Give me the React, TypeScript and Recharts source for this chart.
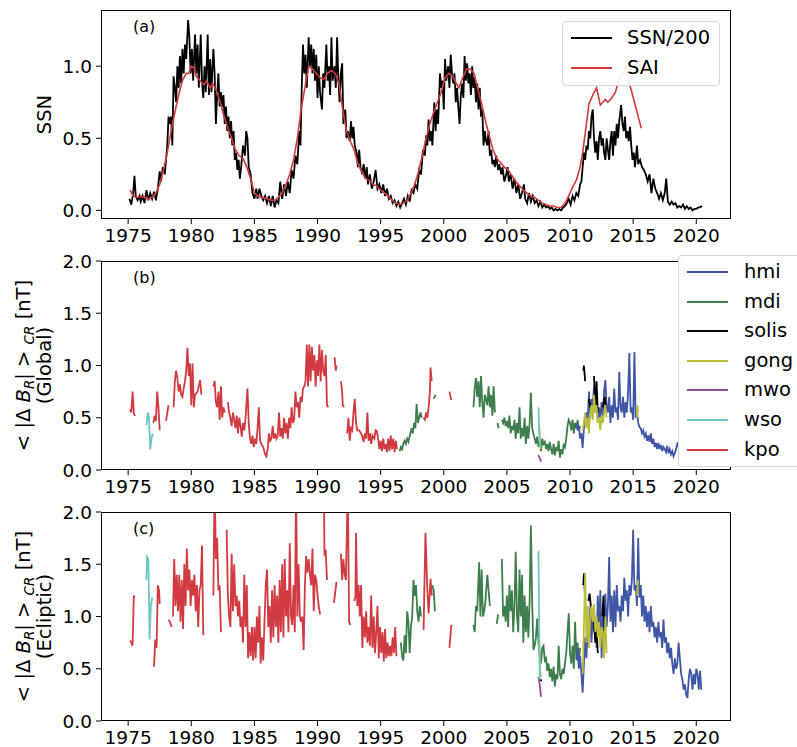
import { LineChart, Line, XAxis, YAxis } from 'recharts';

type Pt = [number, number];

const FONT = '"DejaVu Sans", sans-serif';

const xTicks = [1975, 1980, 1985, 1990, 1995, 2000, 2005, 2010, 2015, 2020];
const ssnTicks = [0, 0.5, 1.0];
const dbTicks = [0, 0.5, 1.0, 1.5, 2.0];

// panel (a): sunspot number / 200 and SAI
const ssn200: Pt[] = [
  [1975.1, 0.08], [1975.25, 0.04], [1975.4, 0.12], [1975.5, 0.24], [1975.6, 0.1], [1975.75, 0.07], [1975.9, 0.1],
  [1976.0, 0.06], [1976.15, 0.1], [1976.3, 0.05], [1976.45, 0.14], [1976.6, 0.07], [1976.75, 0.12], [1976.9, 0.08],
  [1977.05, 0.13], [1977.2, 0.07], [1977.35, 0.15], [1977.5, 0.27], [1977.6, 0.2], [1977.75, 0.3], [1977.9, 0.25],
  [1978.0, 0.35], [1978.1, 0.45], [1978.2, 0.65], [1978.3, 0.6], [1978.4, 0.65], [1978.5, 0.45], [1978.6, 0.93],
  [1978.7, 0.85], [1978.8, 0.75], [1978.9, 1.0], [1979.0, 0.85], [1979.1, 1.07], [1979.2, 0.88], [1979.3, 1.12],
  [1979.4, 0.95], [1979.5, 1.15], [1979.6, 1.05], [1979.75, 1.32], [1979.85, 1.2], [1979.95, 0.95], [1980.05, 1.12],
  [1980.15, 0.9], [1980.3, 1.22], [1980.4, 0.95], [1980.5, 1.15], [1980.6, 0.85], [1980.75, 1.22], [1980.85, 0.9],
  [1980.95, 0.78], [1981.05, 1.0], [1981.15, 0.82], [1981.3, 1.22], [1981.4, 0.8], [1981.5, 1.05], [1981.6, 0.82],
  [1981.75, 1.12], [1981.85, 0.95], [1981.95, 0.6], [1982.05, 0.8], [1982.15, 0.95], [1982.25, 0.72], [1982.35, 0.82],
  [1982.45, 0.72], [1982.55, 0.8], [1982.65, 0.6], [1982.75, 0.72], [1982.85, 0.55], [1982.95, 0.65], [1983.05, 0.5],
  [1983.15, 0.62], [1983.25, 0.45], [1983.35, 0.55], [1983.45, 0.35], [1983.55, 0.4], [1983.65, 0.28], [1983.75, 0.35],
  [1983.85, 0.22], [1983.95, 0.3], [1984.1, 0.45], [1984.25, 0.38], [1984.35, 0.55], [1984.45, 0.5], [1984.55, 0.3],
  [1984.7, 0.25], [1984.85, 0.12], [1985.0, 0.08], [1985.15, 0.15], [1985.25, 0.08], [1985.4, 0.15], [1985.55, 0.1],
  [1985.7, 0.07], [1985.85, 0.1], [1986.0, 0.05], [1986.15, 0.1], [1986.3, 0.03], [1986.45, 0.1], [1986.6, 0.02],
  [1986.75, 0.07], [1986.9, 0.05], [1987.05, 0.2], [1987.2, 0.08], [1987.35, 0.18], [1987.5, 0.1], [1987.65, 0.2],
  [1987.8, 0.12], [1987.95, 0.28], [1988.1, 0.22], [1988.25, 0.38], [1988.4, 0.32], [1988.55, 0.55], [1988.65, 0.45],
  [1988.75, 0.85], [1988.85, 1.15], [1988.95, 0.95], [1989.05, 1.08], [1989.15, 0.85], [1989.3, 1.2], [1989.4, 1.0],
  [1989.5, 1.15], [1989.6, 0.95], [1989.7, 1.12], [1989.8, 0.9], [1989.9, 1.08], [1990.0, 0.78], [1990.1, 1.0],
  [1990.2, 0.82], [1990.35, 0.7], [1990.45, 0.95], [1990.55, 0.85], [1990.7, 1.15], [1990.8, 0.9], [1990.9, 1.0],
  [1991.0, 0.8], [1991.1, 1.2], [1991.2, 0.9], [1991.35, 1.0], [1991.45, 0.85], [1991.55, 1.2], [1991.65, 0.92],
  [1991.75, 0.75], [1991.85, 0.95], [1991.95, 1.02], [1992.05, 0.6], [1992.2, 0.7], [1992.3, 0.5], [1992.4, 0.55],
  [1992.55, 0.48], [1992.65, 0.62], [1992.75, 0.5], [1992.85, 0.58], [1992.95, 0.45], [1993.1, 0.4], [1993.2, 0.3],
  [1993.3, 0.42], [1993.4, 0.3], [1993.55, 0.25], [1993.65, 0.32], [1993.8, 0.22], [1993.9, 0.3], [1994.0, 0.18],
  [1994.15, 0.25], [1994.3, 0.15], [1994.45, 0.2], [1994.6, 0.28], [1994.75, 0.15], [1994.9, 0.18], [1995.05, 0.12],
  [1995.2, 0.18], [1995.35, 0.1], [1995.5, 0.15], [1995.65, 0.08], [1995.8, 0.1], [1995.95, 0.05], [1996.1, 0.07],
  [1996.25, 0.03], [1996.4, 0.06], [1996.55, 0.02], [1996.7, 0.05], [1996.85, 0.08], [1997.0, 0.04], [1997.15, 0.1],
  [1997.3, 0.06], [1997.45, 0.14], [1997.6, 0.12], [1997.75, 0.18], [1997.9, 0.15], [1998.05, 0.28], [1998.2, 0.25],
  [1998.35, 0.42], [1998.5, 0.38], [1998.6, 0.52], [1998.7, 0.45], [1998.8, 0.63], [1998.9, 0.48], [1999.0, 0.55],
  [1999.1, 0.45], [1999.25, 0.75], [1999.35, 0.55], [1999.45, 0.7], [1999.55, 0.6], [1999.7, 0.95], [1999.8, 0.85],
  [1999.9, 0.9], [2000.0, 0.7], [2000.1, 1.05], [2000.2, 0.9], [2000.35, 1.0], [2000.45, 0.85], [2000.55, 1.08],
  [2000.65, 0.95], [2000.75, 0.88], [2000.85, 0.95], [2000.95, 0.75], [2001.05, 0.85], [2001.15, 0.72], [2001.25, 0.6],
  [2001.35, 0.8], [2001.45, 0.88], [2001.55, 0.78], [2001.65, 1.07], [2001.75, 0.9], [2001.85, 1.02], [2001.95, 0.88],
  [2002.05, 0.95], [2002.15, 0.8], [2002.25, 1.0], [2002.35, 0.85], [2002.45, 0.92], [2002.55, 0.75], [2002.65, 0.88],
  [2002.75, 0.7], [2002.85, 0.85], [2002.95, 0.65], [2003.05, 0.7], [2003.15, 0.45], [2003.25, 0.55], [2003.35, 0.48],
  [2003.45, 0.45], [2003.55, 0.55], [2003.65, 0.38], [2003.75, 0.42], [2003.85, 0.32], [2003.95, 0.35], [2004.05, 0.3],
  [2004.15, 0.38], [2004.3, 0.28], [2004.4, 0.32], [2004.55, 0.25], [2004.65, 0.3], [2004.8, 0.2], [2004.95, 0.25],
  [2005.05, 0.3], [2005.15, 0.2], [2005.3, 0.25], [2005.45, 0.15], [2005.6, 0.22], [2005.75, 0.12], [2005.9, 0.18],
  [2006.05, 0.08], [2006.2, 0.12], [2006.35, 0.18], [2006.45, 0.08], [2006.6, 0.05], [2006.75, 0.12], [2006.9, 0.06],
  [2007.05, 0.1], [2007.2, 0.05], [2007.35, 0.07], [2007.5, 0.03], [2007.65, 0.06], [2007.8, 0.02], [2007.95, 0.04],
  [2008.1, 0.02], [2008.25, 0.03], [2008.4, 0.01], [2008.55, 0.02], [2008.7, 0.0], [2008.85, 0.01], [2009.0, 0.0],
  [2009.15, 0.01], [2009.3, 0.0], [2009.45, 0.02], [2009.6, 0.03], [2009.75, 0.05], [2009.9, 0.08], [2010.05, 0.04],
  [2010.2, 0.1], [2010.35, 0.07], [2010.5, 0.12], [2010.65, 0.1], [2010.8, 0.18], [2010.9, 0.2], [2011.0, 0.3],
  [2011.1, 0.4], [2011.2, 0.35], [2011.3, 0.45], [2011.4, 0.42], [2011.5, 0.55], [2011.6, 0.5], [2011.7, 0.65],
  [2011.8, 0.7], [2011.9, 0.5], [2012.0, 0.4], [2012.1, 0.48], [2012.2, 0.35], [2012.3, 0.5], [2012.4, 0.55],
  [2012.5, 0.45], [2012.6, 0.5], [2012.7, 0.4], [2012.8, 0.35], [2012.9, 0.5], [2013.0, 0.42], [2013.1, 0.35],
  [2013.2, 0.48], [2013.3, 0.55], [2013.4, 0.38], [2013.5, 0.55], [2013.6, 0.45], [2013.7, 0.6], [2013.8, 0.5],
  [2013.9, 0.62], [2014.05, 0.73], [2014.15, 0.6], [2014.25, 0.55], [2014.35, 0.65], [2014.45, 0.5], [2014.55, 0.55],
  [2014.65, 0.48], [2014.75, 0.58], [2014.85, 0.45], [2014.95, 0.35], [2015.05, 0.4], [2015.15, 0.3], [2015.3, 0.45],
  [2015.4, 0.32], [2015.55, 0.35], [2015.7, 0.3], [2015.85, 0.28], [2016.0, 0.25], [2016.15, 0.2], [2016.3, 0.25],
  [2016.45, 0.12], [2016.6, 0.22], [2016.75, 0.15], [2016.9, 0.12], [2017.05, 0.08], [2017.2, 0.12], [2017.35, 0.07],
  [2017.5, 0.12], [2017.62, 0.22], [2017.75, 0.06], [2017.9, 0.04], [2018.05, 0.06], [2018.2, 0.04], [2018.35, 0.05],
  [2018.5, 0.02], [2018.65, 0.03], [2018.8, 0.02], [2018.95, 0.04], [2019.1, 0.01], [2019.25, 0.03], [2019.4, 0.01],
  [2019.55, 0.02], [2019.7, 0.0], [2019.85, 0.01], [2020.0, 0.01], [2020.15, 0.02], [2020.3, 0.02], [2020.45, 0.03],
];

const sai: Pt[] = [
  [1975.15, 0.14], [1975.4, 0.1], [1975.7, 0.09], [1976.0, 0.1], [1976.3, 0.09], [1976.6, 0.08], [1976.9, 0.09],
  [1977.2, 0.12], [1977.5, 0.18], [1977.8, 0.28], [1978.1, 0.4], [1978.4, 0.55], [1978.7, 0.68], [1979.0, 0.8],
  [1979.3, 0.9], [1979.6, 0.95], [1979.8, 0.95], [1980.0, 1.0], [1980.2, 0.99], [1980.4, 0.93], [1980.7, 0.9],
  [1981.0, 0.87], [1981.2, 0.9], [1981.5, 0.85], [1981.7, 0.88], [1982.0, 0.83], [1982.3, 0.75], [1982.6, 0.65],
  [1982.9, 0.57], [1983.2, 0.5], [1983.5, 0.42], [1983.8, 0.38], [1984.1, 0.36], [1984.4, 0.3], [1984.7, 0.22],
  [1985.0, 0.12], [1985.3, 0.1], [1985.6, 0.09], [1986.0, 0.08], [1986.3, 0.07], [1986.6, 0.07], [1986.9, 0.09],
  [1987.2, 0.12], [1987.5, 0.18], [1987.8, 0.25], [1988.1, 0.35], [1988.4, 0.5], [1988.7, 0.7], [1989.0, 0.85],
  [1989.3, 1.0], [1989.6, 0.98], [1989.9, 0.95], [1990.2, 0.92], [1990.5, 0.91], [1990.8, 0.95], [1991.1, 0.97],
  [1991.4, 0.95], [1991.7, 0.88], [1992.0, 0.7], [1992.3, 0.55], [1992.6, 0.48], [1992.9, 0.42], [1993.2, 0.32],
  [1993.5, 0.27], [1993.8, 0.22], [1994.1, 0.21], [1994.4, 0.18], [1994.7, 0.17], [1995.0, 0.14], [1995.3, 0.12],
  [1995.6, 0.1], [1995.9, 0.07], [1996.2, 0.05], [1996.5, 0.04], [1996.8, 0.05], [1997.1, 0.07], [1997.4, 0.12],
  [1997.7, 0.18], [1998.0, 0.27], [1998.3, 0.38], [1998.6, 0.5], [1998.9, 0.6], [1999.2, 0.68], [1999.5, 0.75],
  [1999.8, 0.82], [2000.1, 0.92], [2000.4, 0.95], [2000.7, 0.93], [2001.0, 0.88], [2001.2, 0.85], [2001.5, 0.92],
  [2001.8, 0.98], [2002.1, 0.98], [2002.4, 0.95], [2002.7, 0.84], [2003.0, 0.74], [2003.3, 0.62], [2003.6, 0.52],
  [2003.9, 0.42], [2004.2, 0.36], [2004.5, 0.33], [2004.8, 0.3], [2005.1, 0.28], [2005.4, 0.24], [2005.7, 0.2],
  [2006.0, 0.17], [2006.3, 0.14], [2006.6, 0.12], [2006.9, 0.1], [2007.2, 0.09], [2007.5, 0.07], [2007.8, 0.05],
  [2008.1, 0.04], [2008.4, 0.03], [2008.7, 0.03], [2009.0, 0.02], [2009.3, 0.02], [2009.6, 0.05], [2009.9, 0.1],
  [2010.2, 0.16], [2010.5, 0.21], [2010.8, 0.3], [2011.0, 0.4], [2011.3, 0.6], [2011.5, 0.74], [2011.8, 0.8],
  [2012.1, 0.85], [2012.4, 0.73], [2012.6, 0.75], [2012.8, 0.77], [2013.0, 0.75], [2013.3, 0.78], [2013.6, 0.82],
  [2013.9, 0.92], [2014.2, 0.95], [2014.45, 1.0], [2014.6, 0.9], [2014.8, 0.85], [2015.1, 0.75], [2015.4, 0.65],
  [2015.65, 0.57],
];

// panel (b): global <|dBr|>_CR per observatory, gaps between segments
const kpoGlobal: Pt[][] = [
  [[1975.15, 0.58], [1975.25, 0.55], [1975.35, 0.75], [1975.45, 0.54], [1975.55, 0.52]],
  [[1977.0, 0.45], [1977.1, 0.52], [1977.2, 0.47], [1977.3, 0.75], [1977.4, 0.6], [1977.5, 0.38]],
  [[1978.0, 0.47], [1978.2, 0.62]],
  [[1978.6, 0.6], [1978.7, 0.85], [1978.8, 0.95], [1978.9, 0.88], [1979.0, 0.75], [1979.1, 0.82], [1979.2, 0.72],
   [1979.3, 0.7], [1979.4, 0.78], [1979.5, 0.85], [1979.6, 0.95], [1979.7, 1.17], [1979.8, 0.9], [1979.9, 1.02],
   [1980.0, 0.62], [1980.1, 1.02], [1980.2, 0.6], [1980.3, 0.72], [1980.5, 0.75], [1980.7, 0.86], [1980.8, 0.72]],
  [[1981.75, 0.8], [1981.85, 0.85], [1981.95, 0.65], [1982.05, 0.6], [1982.15, 0.75], [1982.25, 0.48], [1982.35, 0.8],
   [1982.45, 0.5], [1982.55, 0.6], [1982.65, 0.55]],
  [[1982.9, 0.65], [1983.0, 0.55], [1983.1, 0.5], [1983.2, 0.42], [1983.3, 0.55], [1983.4, 0.48], [1983.5, 0.4],
   [1983.6, 0.52], [1983.7, 0.35], [1983.8, 0.5], [1983.9, 0.42], [1984.0, 0.32], [1984.1, 0.45], [1984.2, 0.38],
   [1984.3, 0.5], [1984.45, 0.78], [1984.55, 0.45], [1984.65, 0.3], [1984.75, 0.25], [1984.85, 0.33], [1984.95, 0.22],
   [1985.05, 0.3], [1985.15, 0.25], [1985.25, 0.4], [1985.35, 0.6], [1985.45, 0.28], [1985.55, 0.25], [1985.7, 0.22],
   [1985.85, 0.15], [1985.95, 0.13], [1986.05, 0.2], [1986.15, 0.35], [1986.25, 0.28], [1986.35, 0.3], [1986.45, 0.42],
   [1986.55, 0.3], [1986.65, 0.35], [1986.75, 0.3], [1986.85, 0.33], [1986.95, 0.55], [1987.05, 0.32], [1987.15, 0.4],
   [1987.25, 0.3], [1987.35, 0.5], [1987.45, 0.35], [1987.55, 0.45], [1987.65, 0.3], [1987.75, 0.5], [1987.85, 0.4],
   [1987.95, 0.6], [1988.05, 0.45], [1988.15, 0.48], [1988.25, 0.75], [1988.35, 0.6], [1988.45, 0.65], [1988.55, 0.5],
   [1988.65, 0.7], [1988.75, 0.65], [1988.85, 0.78], [1988.95, 0.8], [1989.05, 0.85], [1989.15, 1.2], [1989.25, 0.8],
   [1989.35, 1.2], [1989.45, 0.85], [1989.55, 1.18], [1989.65, 0.95], [1989.75, 1.1], [1989.85, 0.8], [1989.95, 1.05],
   [1990.05, 0.9], [1990.15, 1.2], [1990.25, 0.85], [1990.35, 1.15], [1990.45, 0.95], [1990.55, 0.9], [1990.65, 1.1],
   [1990.75, 0.62], [1990.85, 0.6]],
  [[1991.35, 1.08], [1991.45, 0.95], [1991.5, 1.0]],
  [[1991.85, 0.85], [1991.95, 0.75], [1992.0, 0.62], [1992.1, 0.6]],
  [[1992.35, 0.35], [1992.45, 0.5], [1992.55, 0.28], [1992.65, 0.4], [1992.75, 0.38], [1992.85, 0.55], [1992.95, 0.68],
   [1993.05, 0.45], [1993.15, 0.38], [1993.3, 0.38], [1993.45, 0.35], [1993.55, 0.32], [1993.65, 0.27], [1993.75, 0.35],
   [1993.85, 0.3], [1993.95, 0.55], [1994.05, 0.28], [1994.15, 0.35], [1994.25, 0.25], [1994.35, 0.33], [1994.5, 0.3],
   [1994.6, 0.38], [1994.7, 0.37], [1994.8, 0.3], [1994.9, 0.2], [1995.0, 0.28], [1995.1, 0.18], [1995.2, 0.3],
   [1995.3, 0.2], [1995.4, 0.25], [1995.5, 0.17], [1995.6, 0.3], [1995.7, 0.18], [1995.8, 0.33], [1995.9, 0.2],
   [1996.0, 0.3], [1996.1, 0.17], [1996.2, 0.28], [1996.3, 0.2]],
  [[1998.4, 0.5], [1998.5, 0.48], [1998.6, 0.55], [1998.7, 0.5], [1998.8, 0.6], [1998.9, 0.75], [1998.95, 0.98],
   [1999.05, 0.85]],
  [[2000.45, 0.75], [2000.6, 0.67]],
];

const wsoGlobal: Pt[][] = [
  [[1976.45, 0.43], [1976.55, 0.55], [1976.65, 0.5], [1976.75, 0.2], [1976.85, 0.3], [1976.95, 0.35]],
  [[2007.5, 0.6], [2007.55, 0.4], [2007.6, 0.22]],
];

const mdiGlobal: Pt[][] = [
  [[1996.5, 0.18], [1996.6, 0.22], [1996.7, 0.2], [1996.8, 0.25], [1996.9, 0.28], [1997.0, 0.25], [1997.1, 0.3],
   [1997.2, 0.27], [1997.35, 0.35], [1997.45, 0.4], [1997.55, 0.35], [1997.65, 0.45], [1997.75, 0.4], [1997.85, 0.63],
   [1997.95, 0.45], [1998.05, 0.5], [1998.15, 0.55], [1998.25, 0.5]],
  [[1999.2, 0.68], [1999.35, 0.72]],
  [[2002.35, 0.6], [2002.45, 0.78], [2002.55, 0.88], [2002.65, 0.7], [2002.75, 0.85], [2002.85, 0.6], [2002.95, 0.9],
   [2003.05, 0.65], [2003.15, 0.5], [2003.25, 0.72], [2003.35, 0.68], [2003.45, 0.62], [2003.55, 0.8], [2003.65, 0.6],
   [2003.75, 0.72], [2003.85, 0.52], [2003.95, 0.8], [2004.05, 0.55]],
  [[2004.25, 0.45], [2004.35, 0.4]],
  [[2004.6, 0.48], [2004.7, 0.45], [2004.8, 0.5], [2004.9, 0.42], [2005.0, 0.47], [2005.1, 0.4], [2005.2, 0.52],
   [2005.3, 0.35], [2005.4, 0.42], [2005.5, 0.38], [2005.6, 0.48], [2005.7, 0.3], [2005.8, 0.45], [2005.9, 0.35],
   [2006.0, 0.6], [2006.1, 0.3], [2006.2, 0.4], [2006.3, 0.32], [2006.4, 0.5], [2006.5, 0.25], [2006.6, 0.42],
   [2006.7, 0.3], [2006.8, 0.45], [2006.9, 0.74], [2007.0, 0.4], [2007.1, 0.35], [2007.2, 0.3], [2007.3, 0.25],
   [2007.4, 0.32], [2007.5, 0.22], [2007.6, 0.28], [2007.7, 0.18], [2007.8, 0.3], [2007.9, 0.25], [2008.0, 0.27],
   [2008.1, 0.2], [2008.2, 0.25], [2008.3, 0.18], [2008.4, 0.27], [2008.5, 0.2], [2008.6, 0.15], [2008.7, 0.25],
   [2008.8, 0.14], [2008.9, 0.22], [2009.0, 0.18], [2009.1, 0.28], [2009.2, 0.12], [2009.3, 0.2], [2009.4, 0.15],
   [2009.5, 0.25], [2009.6, 0.22], [2009.7, 0.3], [2009.8, 0.42], [2009.9, 0.48], [2010.0, 0.45], [2010.1, 0.38],
   [2010.2, 0.48], [2010.3, 0.35], [2010.4, 0.45], [2010.5, 0.4], [2010.6, 0.48], [2010.7, 0.38], [2010.8, 0.42]],
];

const hmiGlobal: Pt[][] = [
  [[2010.5, 0.45], [2010.6, 0.38], [2010.7, 0.42], [2010.8, 0.3], [2010.9, 0.35], [2011.0, 0.21], [2011.1, 0.4],
   [2011.2, 0.5], [2011.3, 0.55], [2011.4, 0.48], [2011.5, 0.75], [2011.6, 0.5], [2011.7, 0.68], [2011.8, 0.6],
   [2011.9, 0.8], [2012.0, 0.55], [2012.1, 0.7], [2012.2, 0.45], [2012.3, 0.6], [2012.4, 0.5], [2012.5, 0.65],
   [2012.6, 0.52], [2012.7, 0.75], [2012.8, 0.86], [2012.9, 0.6], [2013.0, 0.55], [2013.1, 0.7], [2013.2, 0.45],
   [2013.3, 0.62], [2013.4, 0.5], [2013.5, 0.78], [2013.6, 0.55], [2013.7, 0.6], [2013.8, 0.48], [2013.9, 0.94],
   [2014.0, 0.6], [2014.1, 0.55], [2014.2, 0.7], [2014.3, 0.5], [2014.4, 0.65], [2014.5, 0.55], [2014.6, 0.75],
   [2014.7, 1.12], [2014.8, 0.55], [2014.9, 0.6], [2015.0, 0.48], [2015.1, 1.13], [2015.2, 0.5], [2015.3, 0.55],
   [2015.4, 0.45], [2015.5, 0.41], [2015.6, 0.4], [2015.7, 0.35], [2015.8, 0.38], [2015.9, 0.32], [2016.0, 0.35],
   [2016.1, 0.28], [2016.2, 0.33], [2016.3, 0.27], [2016.4, 0.35], [2016.5, 0.25], [2016.6, 0.3], [2016.7, 0.22],
   [2016.8, 0.26], [2016.9, 0.2], [2017.0, 0.26], [2017.1, 0.2], [2017.2, 0.24], [2017.3, 0.18], [2017.4, 0.22],
   [2017.5, 0.2], [2017.6, 0.17], [2017.7, 0.23], [2017.8, 0.16], [2017.9, 0.2], [2018.0, 0.15], [2018.1, 0.18],
   [2018.2, 0.13], [2018.3, 0.16], [2018.4, 0.2], [2018.5, 0.25], [2018.7, 0.2], [2019.0, 0.15], [2019.3, 0.2],
   [2019.6, 0.18], [2019.9, 0.22], [2020.2, 0.2], [2020.4, 0.25]],
];

const solisGlobal: Pt[][] = [
  [[2011.05, 0.95], [2011.1, 1.0], [2011.2, 0.85]],
  [[2011.5, 0.68], [2011.6, 0.6]],
  [[2011.9, 0.9], [2012.0, 0.6], [2012.1, 0.85], [2012.2, 0.55]],
  [[2012.6, 0.6], [2012.75, 0.7], [2012.85, 0.58]],
];

const gongGlobal: Pt[][] = [
  [[2007.55, 0.45], [2007.65, 0.22], [2007.7, 0.2]],
  [[2011.0, 0.38], [2011.1, 0.45], [2011.2, 0.55], [2011.3, 0.4], [2011.4, 0.5], [2011.5, 0.35], [2011.6, 0.55],
   [2011.7, 0.62], [2011.8, 0.48], [2011.9, 0.72], [2012.0, 0.55], [2012.1, 0.62], [2012.2, 0.45], [2012.3, 0.5],
   [2012.4, 0.38], [2012.5, 0.52], [2012.6, 0.45], [2012.7, 0.55], [2012.8, 0.62], [2012.9, 0.5]],
  [[2015.3, 0.5], [2015.35, 0.62], [2015.4, 0.55]],
];

const mwoGlobal: Pt[][] = [
  [[2007.45, 0.14], [2007.6, 0.12], [2007.7, 0.08]],
];

// panel (c): ecliptic <|dBr|>_CR
const kpoEcliptic: Pt[][] = [
  [[1975.15, 0.77], [1975.25, 0.75], [1975.35, 0.72], [1975.45, 1.2], [1975.5, 1.18]],
  [[1977.05, 0.52], [1977.15, 0.78], [1977.25, 0.7], [1977.35, 1.3], [1977.45, 1.25], [1977.5, 1.12]],
  [[1978.2, 0.97], [1978.3, 0.95], [1978.45, 0.9]],
  [[1978.55, 1.0], [1978.65, 1.55], [1978.75, 1.1], [1978.85, 1.4], [1978.95, 1.05], [1979.05, 1.4], [1979.15, 0.95],
   [1979.25, 1.35], [1979.35, 0.88], [1979.45, 1.5], [1979.55, 1.1], [1979.65, 1.65], [1979.75, 1.25], [1979.85, 1.45],
   [1979.95, 1.1], [1980.05, 1.35], [1980.15, 1.2], [1980.25, 1.4], [1980.35, 1.05], [1980.45, 1.3], [1980.55, 0.9],
   [1980.65, 1.25], [1980.75, 1.3], [1980.85, 1.68], [1980.95, 0.82]],
  [[1981.75, 1.2], [1981.85, 2.3], [1981.95, 1.55], [1982.05, 1.75], [1982.15, 1.25], [1982.25, 1.3], [1982.35, 0.85]],
  [[1982.8, 1.83], [1982.9, 1.2], [1983.0, 1.0], [1983.1, 0.9], [1983.2, 1.6], [1983.3, 1.05], [1983.4, 1.5],
   [1983.5, 1.1], [1983.6, 1.2], [1983.7, 1.0], [1983.8, 1.15], [1983.9, 0.9], [1984.0, 1.0], [1984.1, 0.75],
   [1984.2, 1.4], [1984.3, 0.9], [1984.4, 1.3], [1984.5, 0.6], [1984.6, 0.85], [1984.7, 0.62], [1984.8, 0.9],
   [1984.9, 0.58], [1985.0, 0.9], [1985.1, 0.6], [1985.2, 1.0], [1985.3, 0.75], [1985.4, 1.1], [1985.5, 0.55],
   [1985.6, 0.8], [1985.7, 0.58], [1985.8, 0.95], [1985.9, 1.3], [1986.0, 1.45], [1986.1, 0.9], [1986.2, 1.1],
   [1986.3, 0.75], [1986.4, 1.25], [1986.5, 0.8], [1986.6, 1.3], [1986.7, 0.9], [1986.8, 1.2], [1986.9, 0.75],
   [1987.0, 1.35], [1987.1, 0.85], [1987.2, 1.5], [1987.3, 0.8], [1987.4, 1.55], [1987.5, 1.0], [1987.6, 1.25],
   [1987.7, 0.85], [1987.8, 1.7], [1987.9, 1.0], [1988.0, 0.92], [1988.1, 1.3], [1988.2, 0.85], [1988.3, 2.3],
   [1988.4, 1.0], [1988.5, 1.5], [1988.6, 1.0], [1988.7, 0.95], [1988.8, 1.0], [1988.9, 0.68], [1989.0, 1.3],
   [1989.1, 1.58], [1989.2, 1.42], [1989.3, 1.55], [1989.4, 1.4], [1989.5, 1.3], [1989.6, 1.65], [1989.7, 1.05],
   [1989.8, 1.4], [1989.9, 1.35], [1990.0, 1.2], [1990.1, 1.1], [1990.2, 1.02]],
  [[1990.5, 2.3], [1990.55, 1.6], [1990.65, 1.62], [1990.75, 1.35]],
  [[1991.3, 1.13], [1991.5, 1.33]],
  [[1991.85, 1.6], [1991.95, 1.35], [1992.05, 1.55], [1992.15, 1.4], [1992.25, 1.35], [1992.4, 2.3], [1992.5, 0.95],
   [1992.6, 0.92]],
  [[1992.9, 1.15], [1993.0, 1.18], [1993.05, 1.8], [1993.15, 1.1], [1993.25, 1.3], [1993.35, 1.0], [1993.45, 1.3],
   [1993.55, 0.7], [1993.65, 1.0], [1993.75, 0.8], [1993.85, 1.05], [1993.95, 0.75], [1994.05, 0.9], [1994.15, 0.72],
   [1994.25, 1.2], [1994.35, 0.7], [1994.45, 1.0], [1994.55, 0.65], [1994.65, 0.85], [1994.75, 1.1], [1994.85, 0.6],
   [1994.95, 0.9], [1995.05, 0.65], [1995.15, 0.85], [1995.25, 0.57], [1995.35, 0.88], [1995.45, 0.6], [1995.55, 0.75],
   [1995.65, 0.62], [1995.75, 0.72], [1995.85, 0.62], [1995.95, 0.8], [1996.05, 0.65], [1996.15, 0.9], [1996.25, 0.62]],
  [[1998.4, 0.87], [1998.55, 1.8], [1998.7, 1.25], [1998.8, 1.03], [1998.95, 1.36], [1999.05, 1.2]],
  [[2000.45, 0.7], [2000.6, 0.92]],
];

const wsoEcliptic: Pt[][] = [
  [[1976.45, 1.35], [1976.5, 1.57], [1976.6, 1.55], [1976.7, 0.78], [1976.8, 1.1], [1976.9, 1.18]],
  [[2007.5, 1.63], [2007.6, 0.4]],
];

const mdiEcliptic: Pt[][] = [
  [[1996.6, 0.75], [1996.7, 0.62], [1996.8, 0.58], [1996.9, 0.82], [1997.0, 0.65], [1997.1, 1.05], [1997.2, 0.95],
   [1997.3, 0.65], [1997.4, 0.9], [1997.5, 1.0], [1997.6, 1.35], [1997.7, 1.2], [1997.8, 1.3], [1997.9, 1.05],
   [1998.0, 0.95], [1998.1, 1.1], [1998.2, 1.0]],
  [[1999.1, 1.3], [1999.2, 1.25], [1999.3, 1.05]],
  [[2002.35, 0.92], [2002.45, 0.85], [2002.55, 1.1], [2002.65, 1.05], [2002.8, 1.52], [2002.9, 1.0], [2003.0, 1.45],
   [2003.1, 1.0], [2003.2, 1.05], [2003.3, 1.15], [2003.45, 1.4], [2003.55, 1.25], [2003.65, 1.1]],
  [[2004.2, 0.93], [2004.3, 1.02]],
  [[2004.6, 1.55], [2004.7, 1.0], [2004.8, 1.1], [2004.9, 0.95], [2005.0, 1.2], [2005.1, 0.9], [2005.2, 1.3],
   [2005.3, 1.05], [2005.4, 1.25], [2005.5, 0.85], [2005.6, 1.1], [2005.7, 1.62], [2005.8, 1.0], [2005.9, 0.85],
   [2006.0, 1.45], [2006.1, 1.0], [2006.2, 1.4], [2006.3, 0.75], [2006.4, 1.2], [2006.5, 0.85], [2006.6, 1.1],
   [2006.7, 0.8], [2006.8, 1.15], [2006.9, 1.87], [2007.0, 1.15], [2007.1, 0.68], [2007.2, 0.72], [2007.3, 0.8],
   [2007.4, 0.98], [2007.5, 0.75], [2007.6, 0.62], [2007.7, 0.55], [2007.8, 0.7], [2007.9, 0.72], [2008.0, 0.58],
   [2008.1, 0.6], [2008.2, 0.48], [2008.3, 0.55], [2008.4, 0.42], [2008.5, 0.5], [2008.6, 0.38], [2008.7, 0.52],
   [2008.8, 0.33], [2008.9, 0.45], [2009.0, 0.4], [2009.1, 0.72], [2009.2, 0.45], [2009.3, 0.4], [2009.4, 0.5],
   [2009.5, 0.45], [2009.6, 0.55], [2009.7, 0.65], [2009.8, 0.85], [2009.9, 1.03], [2010.0, 0.65], [2010.1, 0.55],
   [2010.2, 0.72], [2010.3, 0.5], [2010.4, 0.95], [2010.5, 0.6], [2010.6, 0.75], [2010.7, 0.55], [2010.8, 0.7]],
];

const hmiEcliptic: Pt[][] = [
  [[2010.5, 0.58], [2010.6, 0.7], [2010.7, 0.5], [2010.8, 0.62], [2010.9, 0.45], [2011.0, 0.27], [2011.1, 0.55],
   [2011.2, 0.8], [2011.3, 0.6], [2011.4, 0.95], [2011.5, 0.7], [2011.6, 1.1], [2011.7, 0.75], [2011.8, 1.05],
   [2011.9, 0.85], [2012.0, 0.95], [2012.1, 0.7], [2012.2, 1.2], [2012.3, 0.85], [2012.4, 1.25], [2012.5, 0.6],
   [2012.6, 1.0], [2012.7, 0.75], [2012.8, 1.22], [2012.9, 0.9], [2013.0, 1.1], [2013.1, 1.57], [2013.2, 0.95],
   [2013.3, 1.2], [2013.4, 0.85], [2013.5, 1.25], [2013.6, 0.9], [2013.7, 1.3], [2013.8, 1.05], [2013.9, 1.1],
   [2014.0, 0.95], [2014.1, 1.2], [2014.2, 1.05], [2014.3, 1.37], [2014.4, 1.15], [2014.5, 1.25], [2014.6, 1.0],
   [2014.7, 1.3], [2014.8, 1.2], [2014.9, 1.35], [2015.0, 1.83], [2015.1, 1.25], [2015.2, 1.3], [2015.3, 1.1],
   [2015.4, 1.75], [2015.5, 1.18], [2015.6, 1.3], [2015.7, 1.0], [2015.8, 1.2], [2015.9, 0.95], [2016.0, 1.1],
   [2016.1, 0.9], [2016.2, 1.05], [2016.3, 0.85], [2016.4, 1.1], [2016.5, 0.9], [2016.6, 0.95], [2016.7, 0.8],
   [2016.8, 0.9], [2016.9, 0.75], [2017.0, 0.95], [2017.1, 0.8], [2017.2, 0.85], [2017.3, 0.7], [2017.4, 0.97],
   [2017.5, 0.75], [2017.6, 0.8], [2017.7, 0.65], [2017.8, 0.75], [2017.9, 0.6], [2018.0, 0.7], [2018.1, 0.55],
   [2018.2, 0.45], [2018.3, 0.6], [2018.4, 0.5], [2018.5, 0.55], [2018.6, 0.75], [2018.7, 0.6], [2018.8, 0.45],
   [2018.9, 0.4], [2019.0, 0.3], [2019.1, 0.35], [2019.2, 0.25], [2019.3, 0.22], [2019.4, 0.4], [2019.5, 0.5],
   [2019.6, 0.45], [2019.7, 0.3], [2019.8, 0.45], [2019.9, 0.35], [2020.0, 0.5], [2020.1, 0.45], [2020.2, 0.3],
   [2020.3, 0.48], [2020.4, 0.3]],
];

const solisEcliptic: Pt[][] = [
  [[2007.68, 0.4], [2007.72, 0.38]],
  [[2011.05, 1.3], [2011.1, 1.41], [2011.2, 1.16]],
  [[2011.45, 1.15], [2011.55, 1.22], [2011.65, 1.1]],
  [[2011.9, 0.95], [2012.0, 0.75], [2012.1, 0.9], [2012.2, 0.65]],
  [[2012.55, 1.0], [2012.65, 1.2], [2012.75, 0.8]],
];

const gongEcliptic: Pt[][] = [
  [[2007.55, 0.8], [2007.65, 0.45], [2007.7, 0.42]],
  [[2011.0, 0.45], [2011.1, 0.9], [2011.2, 1.42], [2011.3, 0.75], [2011.4, 1.1], [2011.5, 0.7], [2011.6, 1.0],
   [2011.7, 1.1], [2011.8, 0.95], [2011.9, 1.12], [2012.0, 0.85], [2012.1, 1.0], [2012.2, 0.8], [2012.3, 0.95],
   [2012.4, 0.7], [2012.5, 0.9], [2012.6, 0.85], [2012.7, 0.6], [2012.8, 1.0], [2012.9, 0.65]],
  [[2015.3, 1.2], [2015.4, 1.35]],
];

const mwoEcliptic: Pt[][] = [
  [[2007.5, 0.42], [2007.6, 0.35], [2007.7, 0.23]],
];

const legendNames = ['hmi', 'mdi', 'solis', 'gong', 'mwo', 'wso', 'kpo'];
const COLORS: Record<string, string> = {
  hmi: '#3f56a6',
  mdi: '#3e7d4c',
  solis: '#000000',
  gong: '#bdbd3a',
  mwo: '#9b45a3',
  wso: '#6cc6c3',
  kpo: '#d13a40',
};

type Row = { x: number; y: number | null };

function toRows(segs: Pt[][]): Row[] {
  const rows: Row[] = [];
  segs.forEach((seg, i) => {
    if (i > 0) {
      const prev = segs[i - 1];
      rows.push({ x: (prev[prev.length - 1][0] + seg[0][0]) / 2, y: null });
    }
    seg.forEach(([x, y]) => rows.push({ x, y }));
  });
  return rows;
}

const X_DOMAIN: [number, number] = [1972.85, 2022.75];
const PLOT_LEFT = 101;
const PLOT_RIGHT = 731;
const tickStyle = { fontSize: 18.5, fill: '#000', fontFamily: FONT };

function Panel({ top, height, plotTop, plotBottom, yDomain, yTicks, children }: {
  top: number; height: number; plotTop: number; plotBottom: number;
  yDomain: [number, number]; yTicks: number[]; children: any;
}) {
  return (
    <div style={{ position: 'absolute', left: 0, top, width: 797, height }}>
      <LineChart
        width={797}
        height={height}
        margin={{ top: plotTop, right: 797 - PLOT_RIGHT, bottom: 0, left: PLOT_LEFT - 60 }}
      >
        <XAxis
          dataKey="x"
          type="number"
          domain={X_DOMAIN}
          ticks={xTicks}
          allowDataOverflow
          height={height - plotBottom}
          axisLine={false}
          tickSize={5}
          tickMargin={5}
          tickLine={{ stroke: '#000' }}
          tick={tickStyle}
        />
        <YAxis
          type="number"
          domain={yDomain}
          ticks={yTicks}
          allowDataOverflow
          width={60}
          axisLine={false}
          tickSize={5}
          tickMargin={4}
          tickLine={{ stroke: '#000' }}
          tick={tickStyle}
          tickFormatter={(v: number) => v.toFixed(1)}
        />
        {children}
      </LineChart>
      <div style={{
        position: 'absolute', left: PLOT_LEFT, top: plotTop, width: PLOT_RIGHT - PLOT_LEFT,
        height: plotBottom - plotTop, border: '1px solid #000', boxSizing: 'border-box', pointerEvents: 'none',
      }} />
    </div>
  );
}

function seriesLines(prefix: string, sets: Record<string, Pt[][]>, order: string[]) {
  return order.map((name) => (
    <Line
      key={prefix + name}
      data={toRows(sets[name])}
      dataKey="y"
      type="linear"
      stroke={COLORS[name]}
      strokeWidth={1.8}
      dot={false}
      activeDot={false}
      connectNulls={false}
      isAnimationActive={false}
    />
  ));
}

const drawOrder = ['kpo', 'mdi', 'hmi', 'solis', 'gong', 'mwo', 'wso'];

function DbLabel({ center, second }: { center: number; second: string }) {
  return (
    <svg style={{ position: 'absolute', left: 0, top: 0, overflow: 'visible' }} width={70} height={747}>
      <text transform="rotate(-90)" x={-center} y={30} textAnchor="middle" fontFamily={FONT} fontSize={19.5} fill="#000">
        {'< |Δ '}
        <tspan fontStyle="italic">B</tspan>
        <tspan fontStyle="italic" fontSize={13.5} dy={4}>R</tspan>
        <tspan dy={-4}>{'| > '}</tspan>
        <tspan fontStyle="italic" fontSize={13.5} dy={4}>CR</tspan>
        <tspan dy={-4}>{' [nT]'}</tspan>
      </text>
      <text transform="rotate(-90)" x={-center} y={51} textAnchor="middle" fontFamily={FONT} fontSize={19.5} fill="#000">
        {second}
      </text>
    </svg>
  );
}

export default function App() {
  const globalSets: Record<string, Pt[][]> = {
    kpo: kpoGlobal, mdi: mdiGlobal, hmi: hmiGlobal, solis: solisGlobal, gong: gongGlobal, mwo: mwoGlobal, wso: wsoGlobal,
  };
  const eclipticSets: Record<string, Pt[][]> = {
    kpo: kpoEcliptic, mdi: mdiEcliptic, hmi: hmiEcliptic, solis: solisEcliptic, gong: gongEcliptic, mwo: mwoEcliptic, wso: wsoEcliptic,
  };
  const ssnRows = ssn200.map(([x, y]) => ({ x, y }));
  const saiRows = sai.map(([x, y]) => ({ x, y }));

  return (
    <div style={{ position: 'absolute', left: 0, top: 0, width: 797, height: 747, overflow: 'hidden', background: '#fff', fontFamily: FONT }}>
      <Panel top={0} height={250} plotTop={10} plotBottom={219} yDomain={[-0.06, 1.39]} yTicks={ssnTicks}>
        <Line data={ssnRows} dataKey="y" type="linear" stroke="#000" strokeWidth={1.8} dot={false} activeDot={false} isAnimationActive={false} />
        <Line data={saiRows} dataKey="y" type="linear" stroke={COLORS.kpo} strokeWidth={1.6} dot={false} activeDot={false} isAnimationActive={false} />
      </Panel>
      <Panel top={250} height={250} plotTop={11} plotBottom={220} yDomain={[0, 2]} yTicks={dbTicks}>
        {seriesLines('g', globalSets, drawOrder)}
      </Panel>
      <Panel top={497} height={250} plotTop={15} plotBottom={224} yDomain={[0, 2]} yTicks={dbTicks}>
        {seriesLines('e', eclipticSets, drawOrder)}
      </Panel>

      {/* y-axis labels and panel tags */}
      <svg style={{ position: 'absolute', left: 0, top: 0 }} width={797} height={747}>
        <text transform="rotate(-90)" x={-114.5} y={51} textAnchor="middle" fontFamily={FONT} fontSize={19.5} fill="#000">SSN</text>
        <text x={133} y={32} fontFamily={FONT} fontSize={16} fill="#000">(a)</text>
        <text x={133} y={283} fontFamily={FONT} fontSize={16} fill="#000">(b)</text>
        <text x={133} y={534} fontFamily={FONT} fontSize={16} fill="#000">(c)</text>
      </svg>
      <DbLabel center={365.5} second="(Global)" />
      <DbLabel center={616.5} second="(Ecliptic)" />

      {/* legend (a) */}
      <div style={{
        position: 'absolute', left: 562, top: 21, width: 158, height: 65, border: '1px solid #d6d6d6',
        borderRadius: 4, background: 'rgba(255,255,255,0.9)', boxSizing: 'border-box',
      }}>
        {[['SSN/200', '#000'], ['SAI', COLORS.kpo]].map(([label, color], i) => (
          <div key={label} style={{ position: 'absolute', left: 0, top: 3 + i * 30, height: 26, display: 'flex', alignItems: 'center' }}>
            <div style={{ width: 41, height: 2, background: color, marginLeft: 8 }} />
            <span style={{ marginLeft: 15, fontSize: 19.5, color: '#000', lineHeight: '26px' }}>{label}</span>
          </div>
        ))}
      </div>

      {/* legend (b) */}
      <div style={{
        position: 'absolute', left: 678, top: 255, width: 140, height: 212, border: '1px solid #d6d6d6',
        borderRadius: 4, background: '#fff', boxSizing: 'border-box',
      }}>
        {legendNames.map((name, i) => (
          <div key={name} style={{ position: 'absolute', left: 0, top: 3 + i * 29.6, height: 26, display: 'flex', alignItems: 'center' }}>
            <div style={{ width: 41, height: 2, background: COLORS[name], marginLeft: 8 }} />
            <span style={{ marginLeft: 16, fontSize: 19.5, color: '#000', lineHeight: '26px' }}>{name}</span>
          </div>
        ))}
      </div>
    </div>
  );
}
